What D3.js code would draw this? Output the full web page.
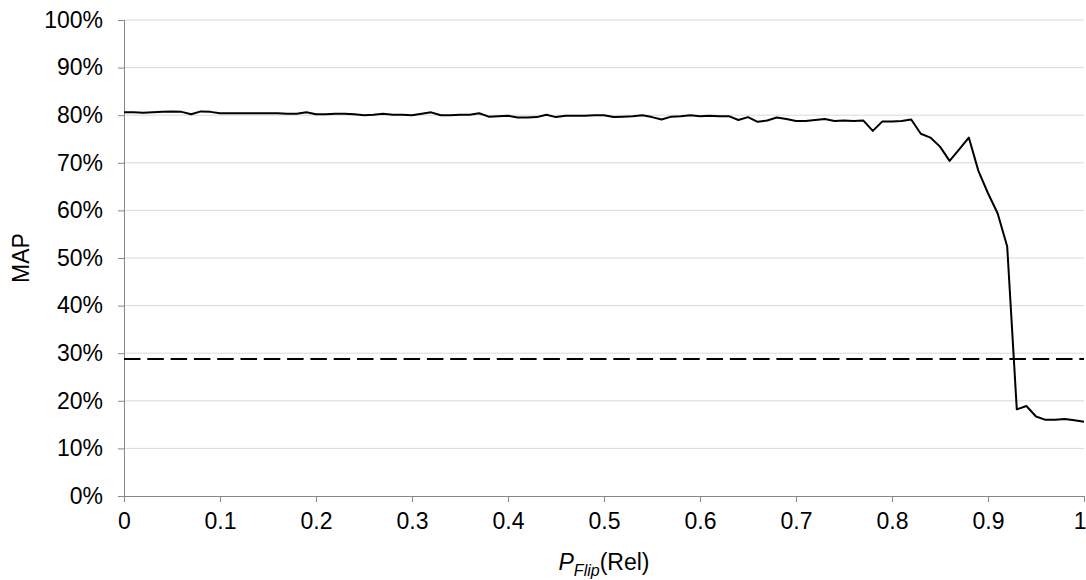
<!DOCTYPE html>
<html>
<head>
<meta charset="utf-8">
<script src="https://cdn.jsdelivr.net/npm/d3@7"></script>
<style>
  html, body { margin: 0; padding: 0; background: #fff; }
  svg { display: block; font-family: "Liberation Sans", Arial, sans-serif; }
</style>
</head>
<body>
<svg id="chart" width="1086" height="580"></svg>
<script>
// Flip probability (x) and mean average precision (y)
const pFlip = d3.range(0, 101).map(i => i / 100);
const mapValues = [
  0.806, 0.806, 0.805, 0.806, 0.807, 0.808, 0.807, 0.802, 0.808, 0.807,
  0.804, 0.804, 0.804, 0.804, 0.804, 0.804, 0.804, 0.803, 0.803, 0.806,
  0.802, 0.802, 0.803, 0.803, 0.802, 0.800, 0.801, 0.803, 0.801, 0.801,
  0.800, 0.803, 0.806, 0.800, 0.800, 0.801, 0.801, 0.804, 0.797, 0.798,
  0.799, 0.795, 0.795, 0.796, 0.801, 0.796, 0.799, 0.799, 0.799, 0.800,
  0.800, 0.796, 0.797, 0.798, 0.800, 0.796, 0.791, 0.797, 0.798, 0.800,
  0.798, 0.799, 0.798, 0.798, 0.790, 0.796, 0.786, 0.789, 0.795, 0.792,
  0.788, 0.788, 0.790, 0.792, 0.788, 0.789, 0.788, 0.789, 0.767, 0.787,
  0.787, 0.788, 0.791, 0.761, 0.753, 0.734, 0.704, 0.728, 0.753, 0.683,
  0.636, 0.594, 0.524, 0.182, 0.189, 0.167, 0.160, 0.160, 0.162, 0.159,
  0.156
];
// Reference level drawn as a dashed horizontal line
const baselineMAP = 0.288;

const xTicks = [0, 0.1, 0.2, 0.3, 0.4, 0.5, 0.6, 0.7, 0.8, 0.9, 1];
const yTicks = [0, 0.1, 0.2, 0.3, 0.4, 0.5, 0.6, 0.7, 0.8, 0.9, 1];

const svg = d3.select("#chart");
const W = 1086, H = 580;
const margin = { left: 124, right: W - 1084, top: 20, bottom: H - 496 };
const tickFont = 23;

const x = d3.scaleLinear().domain([0, 1]).range([margin.left, W - margin.right]);
const y = d3.scaleLinear().domain([0, 1]).range([H - margin.bottom, margin.top]);

// Horizontal gridlines
svg.append("g")
  .selectAll("line")
  .data(yTicks.filter(t => t > 0))
  .join("line")
  .attr("x1", x(0)).attr("x2", x(1))
  .attr("y1", d => y(d)).attr("y2", d => y(d))
  .attr("stroke", "#d9d9d9").attr("stroke-width", 1);

// Y axis
const yAxis = d3.axisLeft(y).tickValues(yTicks)
  .tickFormat(d => Math.round(d * 100) + "%")
  .tickSize(6).tickPadding(15);
const gy = svg.append("g").attr("transform", `translate(${x(0)},0)`).call(yAxis);
gy.select(".domain").attr("stroke", "#878787");
gy.selectAll(".tick line").attr("stroke", "#878787");
gy.selectAll(".tick text").attr("font-size", tickFont).attr("fill", "#000")
  .attr("font-family", "'Liberation Sans', Arial, sans-serif");

// X axis
const xAxis = d3.axisBottom(x).tickValues(xTicks)
  .tickFormat(d => d3.format("")(d))
  .tickSize(6).tickPadding(11);
const gx = svg.append("g").attr("transform", `translate(0,${y(0)})`).call(xAxis);
gx.select(".domain").attr("stroke", "#878787");
gx.selectAll(".tick line").attr("stroke", "#878787");
gx.selectAll(".tick text").attr("font-size", tickFont).attr("fill", "#000")
  .attr("font-family", "'Liberation Sans', Arial, sans-serif");
// keep the last label inside the canvas
gx.selectAll(".tick text").filter(d => d === 1)
  .attr("text-anchor", "end").attr("dx", 2);

// Dashed reference line
svg.append("line")
  .attr("x1", x(0)).attr("x2", x(1))
  .attr("y1", y(baselineMAP)).attr("y2", y(baselineMAP))
  .attr("stroke", "#000").attr("stroke-width", 2)
  .attr("stroke-dasharray", "16.5,6.8");

// MAP curve
const line = d3.line().x((d, i) => x(pFlip[i])).y(d => y(d));
svg.append("path")
  .datum(mapValues)
  .attr("d", line)
  .attr("fill", "none")
  .attr("stroke", "#000")
  .attr("stroke-width", 2)
  .attr("stroke-linejoin", "round");

// Axis titles
svg.append("text")
  .attr("transform", `translate(29,${(y(0) + y(1)) / 2}) rotate(-90)`)
  .attr("text-anchor", "middle")
  .attr("font-size", tickFont)
  .text("MAP");

const xt = svg.append("text")
  .attr("x", (x(0) + x(1)) / 2)
  .attr("y", 570)
  .attr("text-anchor", "middle")
  .attr("font-size", tickFont);
xt.append("tspan").attr("font-style", "italic").text("P");
xt.append("tspan").attr("font-style", "italic").attr("font-size", 16).attr("dy", 6).text("Flip");
xt.append("tspan").attr("dy", -6).text("(Rel)");
</script>
</body>
</html>
